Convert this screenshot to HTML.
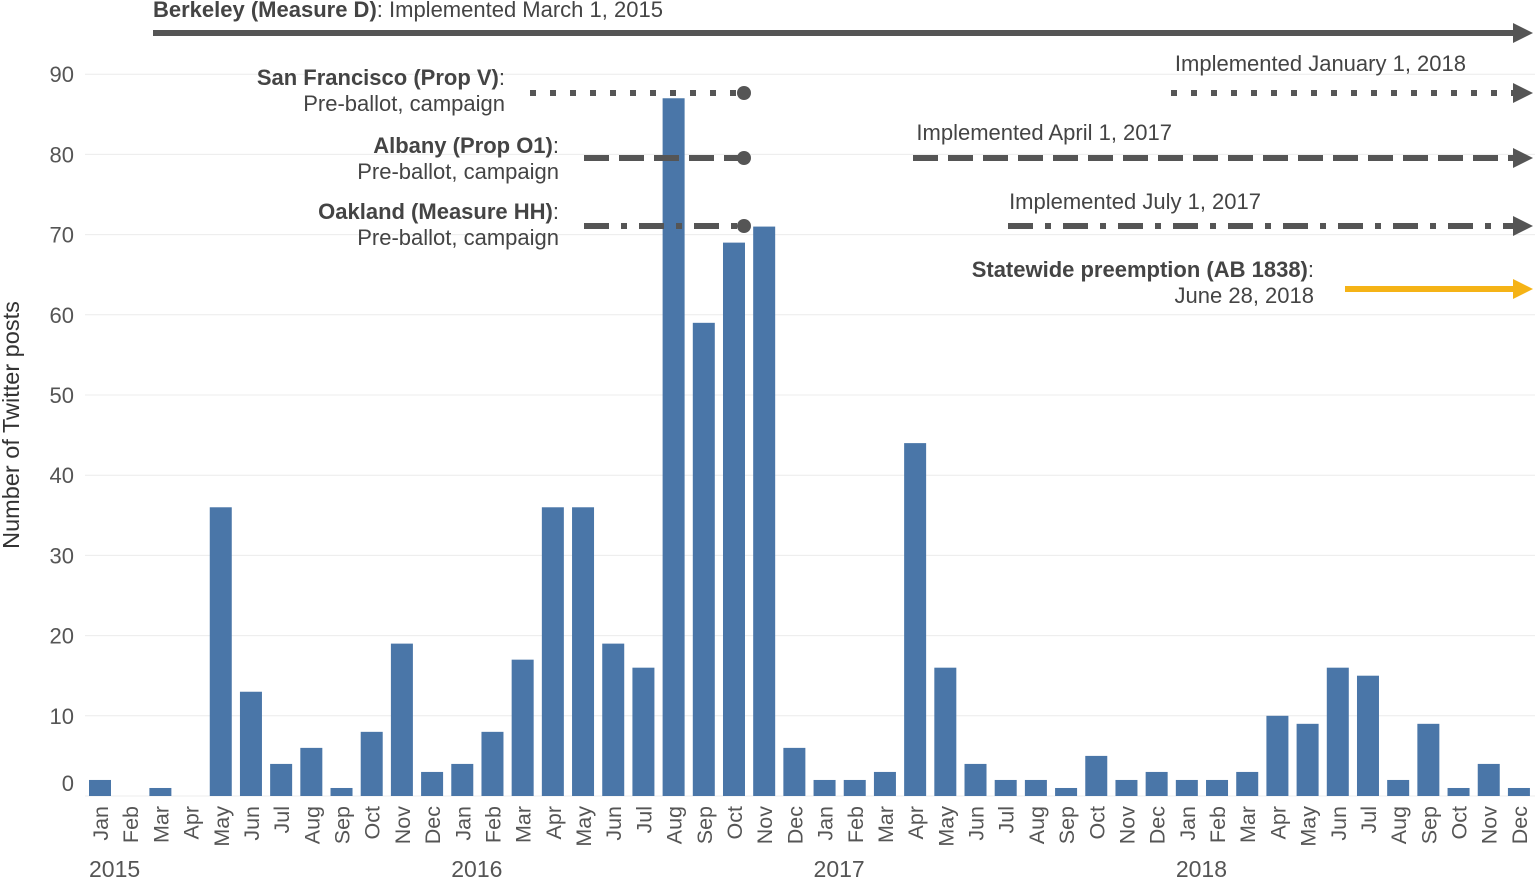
<!DOCTYPE html><html><head><meta charset="utf-8"><style>body{margin:0;background:#fff}svg{display:block;font-family:"Liberation Sans",Arial,sans-serif}</style></head><body>
<svg id="c" width="1535" height="878"></svg>
<script>
const months=["Jan","Feb","Mar","Apr","May","Jun","Jul","Aug","Sep","Oct","Nov","Dec"];
const years=["2015","2016","2017","2018"];
const values=[2,0,1,0,36,13,4,6,1,8,19,3, 4,8,17,36,36,19,16,87,59,69,71,6, 2,2,3,44,16,4,2,2,1,5,2,3, 2,2,3,10,9,16,15,2,9,1,4,1];
const yTicks=[0,10,20,30,40,50,60,70,80,90];
const svg=document.getElementById('c');const NS="http://www.w3.org/2000/svg";
function el(t,a,txt,p){const e=document.createElementNS(NS,t);for(const k in a)e.setAttribute(k,a[k]);if(txt!=null)e.textContent=txt;(p||svg).appendChild(e);return e;}
const y=v=>796-v*8.02;const x=i=>100+i*30.19;
yTicks.forEach(t=>{const g=el('line',{x1:85,x2:1535,y1:y(t),y2:y(t),stroke:'#ececec','stroke-width':1});

const l=el('text',{x:74,y:t===0?791:y(t)+8,'text-anchor':'end','font-size':22,fill:'#555'},t);
});
values.forEach((v,i)=>{const b=el('rect',{x:x(i)-11,y:y(v),width:22,height:796-y(v),fill:'#4a76a8'});

const t=el('text',{transform:`translate(${x(i)+8},806) rotate(-90)`,'text-anchor':'end','font-size':21.5,fill:'#555'},months[i%12]);
});
years.forEach((yr,k)=>{const t=el('text',{x:x(k*12)-11,y:877,'font-size':23,fill:'#555'},yr);
});
const yl=el('text',{transform:'translate(19,425) rotate(-90)','text-anchor':'middle','font-size':23.5,fill:'#333'},'Number of Twitter posts');

function line(x1,x2,yy,dash,col,name,arrow,dot){const l=el('line',{x1:x1,x2:x2,y1:yy,y2:yy,stroke:col||'#555','stroke-width':6});if(dash)l.setAttribute('stroke-dasharray',dash);

if(arrow){const a=el('polygon',{points:`${x2},${yy-10} ${x2+20},${yy} ${x2},${yy+10}`,fill:col||'#555'});}
if(dot){const c=el('circle',{cx:x2,cy:yy,r:7,fill:'#555'});}}
function txt(xx,yy,parts,anchor,name){const t=el('text',{x:xx,y:yy,'text-anchor':anchor||'start','font-size':22,fill:'#444'});parts.forEach(p=>{const s=el('tspan',p[1]?{'font-weight':'bold'}:{},p[0],t);});}
line(153,1513,33,null,'#555','berkeley-line',true);
txt(153,17,[["Berkeley (Measure D)",1],[": Implemented March 1, 2015",0]],'start','berkeley-label');
line(530,744,93,'6 14',null,'sf-preballot-line',false,true);
line(1171,1513,93,'6 14',null,'sf-implemented-line',true);
txt(505,85,[["San Francisco (Prop V)",1],[":",0]],'end','sf-label');
txt(505,111,[["Pre-ballot, campaign",0]],'end','sf-sublabel');
txt(1466,71,[["Implemented January 1, 2018",0]],'end','sf-implemented-label');
line(584,744,158,'25 10',null,'albany-preballot-line',false,true);
line(913,1513,158,'25 10',null,'albany-implemented-line',true);
txt(559,153,[["Albany (Prop O1)",1],[":",0]],'end','albany-label');
txt(559,179,[["Pre-ballot, campaign",0]],'end','albany-sublabel');
txt(1172,140,[["Implemented April 1, 2017",0]],'end','albany-implemented-label');
line(584,744,226,'25 12 6 12',null,'oakland-preballot-line',false,true);
line(1008,1513,226,'25 12 6 12',null,'oakland-implemented-line',true);
txt(559,219,[["Oakland (Measure HH)",1],[":",0]],'end','oakland-label');
txt(559,245,[["Pre-ballot, campaign",0]],'end','oakland-sublabel');
txt(1261,209,[["Implemented July 1, 2017",0]],'end','oakland-implemented-label');
line(1345,1513,289,null,'#f5b316','preemption-line',true);
txt(1314,277,[["Statewide preemption (AB 1838)",1],[":",0]],'end','preemption-label');
txt(1314,303,[["June 28, 2018",0]],'end','preemption-date');
</script></body></html>
